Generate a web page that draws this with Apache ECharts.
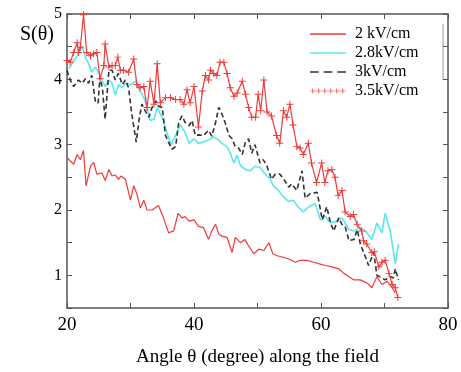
<!DOCTYPE html>
<html>
<head>
<meta charset="utf-8">
<script src="https://cdn.jsdelivr.net/npm/echarts@6/dist/echarts.min.js"></script>
<style>
  html, body { margin: 0; padding: 0; background: #fff; }
  #chart { width: 461px; height: 372px; }
</style>
</head>
<body>
<div id="chart"></div>
<script>
  // [angle, S(theta)]
  const kv2 = [[20,2.80],[21.05,2.70],[21.6,2.85],[22.1,2.77],[22.6,2.91],[23.0,2.37],[23.7,2.67],[24.2,2.73],[24.7,2.55],[25.5,2.57],
    [26.0,2.45],[26.6,2.62],[27.1,2.52],[27.6,2.54],[28.1,2.47],[28.5,2.52],[29.2,2.47],[30.0,2.15],[30.5,2.37],[31.0,2.25],
    [31.55,2.03],[32.1,2.15],[32.6,2.0],[33.4,2.0],[34.4,2.07],[35.2,1.88],[36.0,1.65],[36.8,1.68],[37.5,1.95],[38.1,1.88],
    [38.6,1.9],[39.2,1.83],[40.0,1.85],[40.7,1.75],[41.5,1.73],[42.3,1.55],[42.8,1.68],[43.4,1.78],[43.9,1.63],[44.4,1.60],
    [45.2,1.58],[46.0,1.35],[46.5,1.58],[47.3,1.50],[48.0,1.55],[48.6,1.45],[49.4,1.33],[50.2,1.40],[51.0,1.38],[51.8,1.50],
    [52.4,1.33],[53.1,1.30],[53.9,1.28],[54.9,1.25],[56.0,1.20],[56.7,1.23],[57.8,1.23],[58.9,1.20],[59.6,1.18],[60.7,1.15],
    [61.7,1.13],[62.8,1.10],[63.6,1.03],[64.4,0.98],[65.2,0.93],[66.2,0.93],[67.3,0.88],[68.0,0.81],[68.8,0.98],[69.6,0.86],
    [70.4,0.91],[71.2,0.81],[71.7,0.73]];

  const kv28 = [[20.3,4.16],[20.8,4.24],[21.6,4.36],[21.8,4.41],[22.4,4.50],[22.9,4.34],[23.4,4.24],[23.9,4.11],[24.5,4.19],[25.0,4.09],
    [25.5,3.99],[26.0,3.89],[26.6,3.99],[27.1,3.94],[27.6,3.76],[28.1,3.92],[28.7,3.87],[29.2,3.94],[30.0,3.92],[30.8,3.97],
    [31.5,3.82],[32.1,3.72],[32.6,3.57],[33.1,3.37],[33.7,3.39],[34.2,3.57],[34.7,3.47],[35.2,3.37],[35.7,3.19],[36.4,3.00],
    [37.1,3.14],[37.8,3.30],[38.6,3.19],[39.2,3.02],[40.0,3.09],[40.7,3.02],[41.5,3.04],[42.3,3.07],[43.1,3.12],[43.9,3.07],
    [44.4,3.02],[45.2,2.97],[45.7,2.87],[46.3,2.72],[46.8,2.84],[47.3,2.68],[48.1,2.62],[48.9,2.60],[49.6,2.67],[50.4,2.65],
    [51.2,2.55],[52.0,2.47],[52.5,2.37],[53.3,2.30],[54.1,2.20],[54.9,2.13],[55.6,2.15],[56.4,2.05],[57.2,1.97],[58.1,2.05],
    [59.1,2.10],[59.9,1.85],[60.7,1.90],[61.5,1.80],[62.5,1.83],[63.3,1.88],[64.4,1.70],[65.2,1.68],[66.2,1.73],[67.0,1.68],
    [68.0,1.55],[68.8,1.80],[69.6,1.65],[70.1,1.95],[70.9,1.68],[71.7,1.18],[72.2,1.48]];

  const kv3 = [[20.0,4.14],[20.5,3.99],[21.05,3.89],[21.8,3.99],[22.4,3.94],[22.9,4.01],[23.4,3.94],[23.9,4.06],[24.5,3.64],[24.9,3.64],
    [25.2,4.04],[25.6,3.84],[26.0,3.39],[26.6,4.14],[27.1,4.14],[27.6,3.99],[28.1,4.09],[28.7,3.92],[29.2,3.99],[29.7,3.87],
    [30.2,3.47],[30.9,3.04],[31.4,3.42],[31.8,3.62],[32.3,3.52],[32.9,3.42],[33.4,3.57],[34.0,3.67],[34.4,3.59],[35.0,3.57],
    [35.5,3.14],[36.0,3.04],[36.5,2.93],[37.1,2.97],[37.6,3.34],[38.1,3.44],[38.6,3.34],[39.2,3.29],[39.7,3.37],[40.2,3.14],
    [40.7,3.15],[41.5,3.14],[42.3,3.22],[42.8,3.13],[43.4,3.34],[43.9,3.57],[44.4,3.47],[44.9,3.34],[45.5,3.14],[46.0,3.09],
    [46.5,2.97],[47.0,2.95],[47.6,2.85],[48.1,3.04],[48.6,3.09],[49.1,2.87],[49.6,3.0],[50.4,2.72],[50.9,2.77],[51.5,2.67],
    [52.2,2.47],[52.8,2.55],[53.5,2.55],[54.3,2.45],[54.9,2.35],[55.4,2.40],[56.2,2.30],[57.0,2.60],[57.5,2.18],[58.3,2.25],
    [59.4,2.27],[60.2,1.85],[60.9,2.05],[61.5,1.80],[62.0,1.68],[62.8,1.88],[63.3,1.78],[63.8,1.75],[64.4,1.53],[65.2,1.55],
    [65.7,1.70],[66.2,1.48],[67.0,1.28],[67.5,1.15],[68.3,1.35],[68.8,1.0],[69.6,0.96],[70.1,0.93],[70.9,0.98],[71.4,0.96],
    [71.7,1.10],[72.2,0.93]];

  const kv35 = [[20.0,4.29],[20.5,4.26],[21.05,4.41],[21.6,4.56],[21.8,4.41],[22.1,4.49],[22.6,4.99],[23.1,4.41],[23.7,4.36],[24.2,4.39],
    [24.7,4.41],[25.2,4.01],[25.8,4.21],[26.0,4.54],[26.6,4.19],[27.1,4.21],[27.6,4.21],[28.0,4.34],[28.4,4.14],[28.9,4.14],
    [29.7,4.11],[30.5,4.31],[31.0,3.92],[31.5,3.87],[32.1,3.89],[32.6,3.57],[33.1,3.97],[33.7,3.62],[34.2,4.24],[34.7,3.64],
    [35.5,3.72],[36.3,3.72],[37.1,3.69],[37.8,3.69],[38.4,3.62],[38.9,3.84],[39.4,3.64],[40.0,3.89],[40.7,3.27],[41.3,3.82],
    [41.8,4.06],[42.3,3.99],[42.6,4.14],[43.1,4.09],[43.6,4.06],[44.1,4.26],[44.7,4.26],[45.2,4.09],[45.7,3.87],[46.3,3.74],
    [46.8,3.79],[47.6,3.97],[48.1,3.77],[48.6,3.57],[49.1,3.42],[49.7,3.42],[50.1,3.77],[50.5,3.52],[51.0,3.99],[51.5,3.50],
    [52.2,3.44],[53.0,3.14],[53.5,3.02],[54.1,3.52],[54.6,3.42],[55.1,3.62],[55.6,3.30],[56.2,2.97],[56.7,2.95],[57.2,2.85],
    [58.0,3.02],[58.5,2.72],[59.3,2.42],[60.1,2.72],[60.6,2.42],[61.1,2.60],[61.7,2.62],[62.2,2.50],[62.7,2.22],[63.3,2.30],
    [63.8,1.97],[64.6,1.90],[65.1,1.93],[65.7,1.78],[66.4,1.68],[66.7,1.53],[67.2,1.48],[68.0,1.35],[68.4,1.36],[69.1,1.13],
    [69.6,1.20],[70.1,1.23],[70.7,1.03],[71.2,0.86],[71.7,0.81],[72.1,0.66]];

  const seriesNames = ['2 kV/cm', '2.8kV/cm', '3kV/cm', '3.5kV/cm'];
  const xTicks = [20, 40, 60, 80];

  const serif = 'Liberation Serif';
  const RED = '#f03a3a';
  const CYAN = '#5ce6ee';
  const plus = 'path://M0,4.3H10V5.7H0Z M4.3,0H5.7V10H4.3Z';
  // legend icons
  const solidIcon = 'path://M0,3.8H60V6.2H0Z';
  const dashIcon = 'path://M0,3.8H14V6.2H0Z M22,3.8H36V6.2H22Z M44,3.8H58V6.2H44Z';
  const plusLine = 'path://M0,4.4H60V5.6H0Z M4,1H5.4V9H4Z M14,1H15.4V9H14Z M24,1H25.4V9H24Z M34,1H35.4V9H34Z M44,1H45.4V9H44Z M54,1H55.4V9H54Z';

  const chart = echarts.init(document.getElementById('chart'));

  const axisLine = { lineStyle: { color: '#555', width: 1.5 } };
  const tick = { inside: true, length: 5, lineStyle: { color: '#555', width: 1 } };

  const option = {
    animation: false,
    title: {
      text: 'S(θ)',
      left: 15, top: 20,
      textStyle: { fontFamily: serif, fontSize: 20, fontWeight: 'normal', color: '#000' }
    },
    legend: {
      orient: 'vertical',
      left: 305, top: 21,
      itemWidth: 36, itemHeight: 10, itemGap: 3,
      textStyle: { fontFamily: serif, fontSize: 16, color: '#000', lineHeight: 15, padding: [0, 0, 0, 4] },
      data: [
        { name: seriesNames[0], icon: solidIcon },
        { name: seriesNames[1], icon: solidIcon },
        { name: seriesNames[2], icon: dashIcon },
        { name: seriesNames[3], icon: plusLine }
      ]
    },
    grid: { left: 67, right: 13, top: 14, bottom: 58 },
    xAxis: [{
      type: 'value', min: 20, max: 80, interval: 10,
      name: 'Angle θ (degree) along the field',
      nameLocation: 'middle', nameGap: 40,
      nameTextStyle: { fontFamily: serif, fontSize: 19, color: '#000' },
      axisLine: axisLine, axisTick: tick,
      axisLabel: {
        fontFamily: serif, fontSize: 19, color: '#000', margin: 8,
        formatter: v => xTicks.indexOf(v) >= 0 ? String(v) : ''
      },
      splitLine: { show: false }
    }, {
      type: 'value', position: 'top', min: 20, max: 80, interval: 10,
      axisLine: axisLine, axisTick: tick, axisLabel: { show: false }, splitLine: { show: false }
    }],
    yAxis: [{
      type: 'value', min: 0.5, max: 5, interval: 0.5,
      axisLine: axisLine, axisTick: tick,
      axisLabel: {
        fontFamily: serif, fontSize: 16, color: '#000', margin: 5,
        formatter: v => Math.abs(v - Math.round(v)) < 1e-6 && v >= 1 ? String(Math.round(v)) : ''
      },
      splitLine: { show: false }
    }, {
      type: 'value', position: 'right', min: 0.5, max: 5, interval: 0.5,
      axisLine: axisLine, axisTick: tick, axisLabel: { show: false }, splitLine: { show: false }
    }],
    graphic: [{
      type: 'line', shape: { x1: 443, y1: 24, x2: 443, y2: 80 },
      style: { stroke: '#bbb', lineWidth: 1.5 }
    }],
    series: [
      {
        name: seriesNames[0], type: 'line', data: kv2, showSymbol: false, symbol: 'none',
        lineStyle: { color: RED, width: 1.2 }, itemStyle: { color: RED }
      },
      {
        name: seriesNames[1], type: 'line', data: kv28, showSymbol: false, symbol: 'none',
        lineStyle: { color: CYAN, width: 1.6 }, itemStyle: { color: CYAN }
      },
      {
        name: seriesNames[2], type: 'line', data: kv3, showSymbol: false, symbol: 'none',
        lineStyle: { color: '#333', width: 1.6, type: [5, 3] }, itemStyle: { color: '#333' }
      },
      {
        name: seriesNames[3], type: 'line', data: kv35, symbol: plus, symbolSize: 7,
        lineStyle: { color: RED, width: 1.2 }, itemStyle: { color: RED }
      }
    ]
  };

  chart.setOption(option);
</script>
</body>
</html>
